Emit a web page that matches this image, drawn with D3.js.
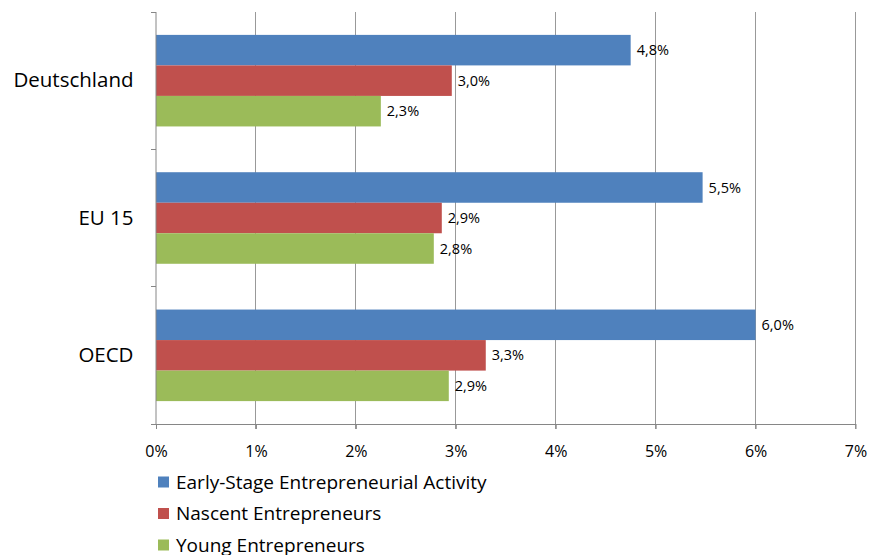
<!DOCTYPE html>
<html><head><meta charset="utf-8">
<script src="https://cdn.jsdelivr.net/npm/d3@7"></script>
<style>body{margin:0;background:#fff}svg{display:block}text{font-family:"Open Sans","Noto Sans",sans-serif;fill:#000}</style>
</head><body>
<svg id="c" width="869" height="555"></svg>
<script>
const categories = ["Deutschland", "EU 15", "OECD"];
const seriesNames = ["Early-Stage Entrepreneurial Activity", "Nascent Entrepreneurs", "Young Entrepreneurs"];
const earlyStage = [4.75, 5.47, 6.0];
const nascent = [2.96, 2.86, 3.3];
const young = [2.25, 2.78, 2.93];
const labelsEarly = ["4,8%", "5,5%", "6,0%"];
const labelsNascent = ["3,0%", "2,9%", "3,3%"];
const labelsYoung = ["2,3%", "2,8%", "2,9%"];
const xTicks = [0,1,2,3,4,5,6,7];
const colors = ["#4F81BD", "#C0504D", "#9BBB59"];

const series = [earlyStage, nascent, young];
const seriesLabels = [labelsEarly, labelsNascent, labelsYoung];

const svg = d3.select("#c");
const L = 156, R = 855.5, T = 12, B = 424;
const x = d3.scaleLinear().domain([0,7]).range([L,R]);
const y = d3.scaleBand().domain(categories).range([T,B]).paddingInner(0).paddingOuter(0);
const inner = d3.scaleBand().domain([0,1,2]).range([0, y.bandwidth()]).paddingInner(0).paddingOuter(0.75);

// gridlines
svg.append("g").selectAll("line").data(xTicks.slice(1)).join("line")
  .attr("x1", d=>x(d)).attr("x2", d=>x(d)).attr("y1", T).attr("y2", B+5)
  .attr("stroke", "#999").attr("stroke-width", 1).attr("shape-rendering","crispEdges");

// bars
const g = svg.append("g");
series.forEach((vals, si) => {
  g.append("g").selectAll("rect").data(vals).join("rect")
    .attr("x", L).attr("y", (d,i)=>y(categories[i]) + inner(si))
    .attr("width", d => x(d) - L).attr("height", inner.bandwidth())
    .attr("fill", colors[si]);
  g.append("g").selectAll("text").data(vals).join("text")
    .attr("x", d => x(d) + 6).attr("y", (d,i)=>y(categories[i]) + inner(si) + inner.bandwidth()/2)
    .attr("dy", "0.35em").attr("font-size", 14.5).text((d,i)=>seriesLabels[si][i]);
});

// axes
const xAxis = d3.axisBottom(x).tickValues(xTicks).tickFormat(d=>d+"%").tickSize(5).tickSizeOuter(0);
const xa = svg.append("g").attr("transform", `translate(0,${B})`).call(xAxis);
xa.select(".domain").attr("stroke", "#868686");
xa.selectAll(".tick line").attr("stroke", "#868686");
xa.selectAll(".tick text").attr("font-size", 16).attr("dy", "0").attr("y", 32.5);

const yAxis = d3.axisLeft(y).tickSize(0).tickPadding(22.5);
const ya = svg.append("g").attr("transform", `translate(${L},0)`).call(yAxis);
ya.select(".domain").attr("stroke", "#868686").attr("d", `M0,${T}V${B}`);
ya.selectAll(".tick text").attr("font-size", 20.5);
// category boundary ticks
const bounds = categories.map(c=>y(c)).concat([B]);
svg.append("g").selectAll("line").data(bounds).join("line")
  .attr("x1", L-5).attr("x2", L).attr("y1", d=>d).attr("y2", d=>d)
  .attr("stroke", "#868686").attr("shape-rendering","crispEdges");

// legend
const lg = svg.append("g").attr("transform", "translate(158,482)");
seriesNames.forEach((n, i) => {
  const row = lg.append("g").attr("transform", `translate(0,${i*31.5})`);
  row.append("rect").attr("x", 0).attr("y", -5.5).attr("width", 11).attr("height", 11).attr("fill", colors[i]);
  row.append("text").attr("x", 18).attr("y", 0).attr("dy", "0.35em").attr("font-size", 19).text(n);
});
</script>
</body></html>
